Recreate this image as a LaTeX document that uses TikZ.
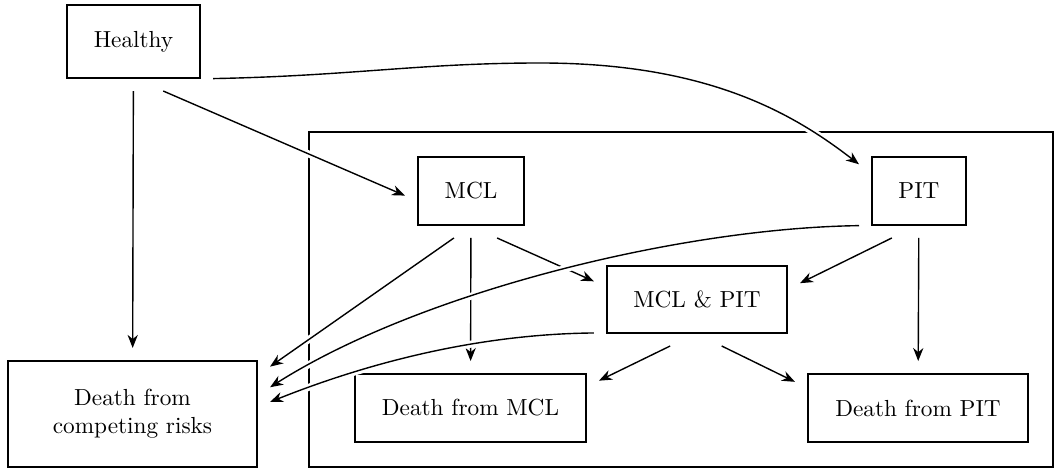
\documentclass[tikz,border=0pt]{standalone}
\usetikzlibrary{arrows.meta}

\begin{document}
\begin{tikzpicture}[x=0.43pt, y=-0.43pt, every node/.style={align=center}, box/.style={draw,line width=0.6pt,inner sep=0pt,outer sep=5.6pt,minimum height=29.2pt}, arrow/.style={-{Stealth[length=5.6pt,width=4.4pt,inset=1.8pt]},line width=0.6pt,preaction={draw=white,line width=3pt,-}}]
\useasboundingbox (0,0) rectangle (1055,469);
% frame round the disease states
\draw[line width=0.6pt] (309,132) rectangle (1053,467);
\node[box,minimum width=57.2pt,minimum height=31.4pt] (healthy) at (133.5,41.5) {Healthy};
\node[box,minimum width=45.6pt] (mcl) at (471,191) {MCL};
\node[box,minimum width=40.4pt] (pit) at (919,191) {PIT};
\node[box,minimum width=77.4pt,minimum height=28.8pt] (both) at (697,299.5) {MCL \& PIT};
\node[box,minimum width=99.3pt] (dmcl) at (470.5,408) {Death from MCL};
\node[box,minimum width=94.6pt] (dpit) at (918,408) {Death from PIT};
\node[box,minimum width=107.1pt,minimum height=45.6pt] (dcr) at (132.5,414) {Death from\\competing risks};
\draw[arrow] (healthy) -- (dcr);
\draw[arrow] (healthy.-59) -- (mcl.184);
\draw[arrow] (healthy.-25) .. controls (350,76) and (420,63) .. (540,63) .. controls (710,63) and (795,115) .. (pit.156);
\draw[arrow] (mcl.-110) -- (dcr.19);
\draw[arrow] (mcl) -- (dmcl);
\draw[arrow] (mcl.-61) -- (both.170);
\draw[arrow] (pit.-120) -- (both.9);
\draw[arrow] (pit) -- (dpit);
\draw[arrow] (both.-120) -- (dmcl.12);
\draw[arrow] (both.-62) -- (dpit.168);
\draw[arrow] (pit.210) .. controls (680,228) and (420,292) .. (dcr.11);
\draw[arrow] (both.198) .. controls (480,334) and (370,362) .. (dcr.5);
\end{tikzpicture}
\end{document}
